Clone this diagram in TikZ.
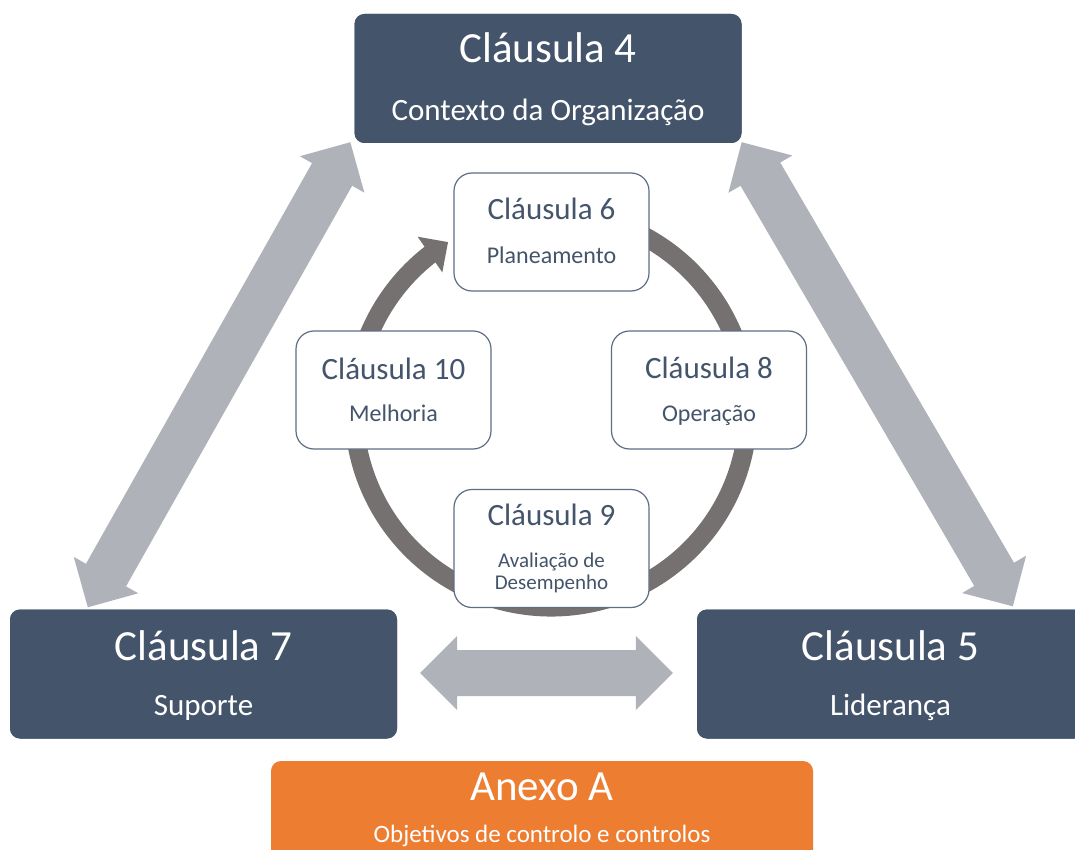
\documentclass[tikz,border=0pt]{standalone}
\usepackage{fontspec}
\setmainfont{Carlito}
\usetikzlibrary{calc,arrows.meta,bending}

\definecolor{slate}{HTML}{44546A}
\definecolor{fatgrey}{HTML}{AFB2B9}
\definecolor{ringgrey}{HTML}{767171}
\definecolor{annexorange}{HTML}{ED7D31}
\definecolor{innerline}{HTML}{5E6E84}

\tikzset{
  darkbox/.style={fill=slate, rounded corners=10pt, inner sep=0pt,
    minimum width=387pt, minimum height=129pt},
  annexbox/.style={fill=annexorange, rounded corners=10pt, inner sep=0pt,
    minimum width=542pt, minimum height=130pt},
  innerbox/.style={fill=white, draw=innerline, line width=1.2pt,
    rounded corners=18pt, inner sep=0pt,
    minimum width=195pt, minimum height=118pt},
  bigtitle/.style={anchor=base, text=white, inner sep=0pt,
    font=\fontsize{43}{50}\selectfont},
  bigsub/.style={anchor=base, text=white, inner sep=0pt,
    font=\fontsize{31}{37}\selectfont},
  annexsub/.style={anchor=base, text=white, inner sep=0pt,
    font=\fontsize{25}{30}\selectfont},
  smalltitle/.style={anchor=base, text=slate, inner sep=0pt,
    font=\fontsize{31}{37}\selectfont},
  smallsub/.style={anchor=base, text=slate, inner sep=0pt,
    font=\fontsize{24}{29}\selectfont},
  tinysub/.style={anchor=base, text=slate, inner sep=0pt,
    font=\fontsize{21}{25}\selectfont},
  ring/.style={draw=ringgrey, line width=19pt,
    -{Triangle[width=42pt,length=22pt]}},
}

% Broad two-headed arrow between two points
% (head length 37pt, head half-width 37pt, shaft half-width 23pt)
\newcommand\fatarrow[2]{%
  \fill[fatgrey] (#1)
    -- ($(#1)!37pt!(#2)!37pt!90:(#2)$)
    -- ($(#1)!37pt!(#2)!23pt!90:(#2)$)
    -- ($(#2)!37pt!(#1)!23pt!-90:(#1)$)
    -- ($(#2)!37pt!(#1)!37pt!-90:(#1)$)
    -- (#2)
    -- ($(#2)!37pt!(#1)!37pt!90:(#1)$)
    -- ($(#2)!37pt!(#1)!23pt!90:(#1)$)
    -- ($(#1)!37pt!(#2)!23pt!-90:(#2)$)
    -- ($(#1)!37pt!(#2)!37pt!-90:(#2)$)
    -- cycle;}

\begin{document}
\begin{tikzpicture}[x=1pt,y=1pt]
  \fill[white] (0,0) rectangle (1075,-850);
  \useasboundingbox (0,0) rectangle (1075,-850);

  % outer clauses
  \node[darkbox] (c4) at (548,-78.5) {};
  \node[darkbox] (c7) at (203.5,-674) {};
  \node[darkbox] (c5) at (890.5,-674) {};

  % end points of the broad arrows
  \coordinate (l1) at ($(c4.south west)+(-4,1)$);
  \coordinate (l2) at ($(c7.north west)+(78,2)$);
  \coordinate (r1) at ($(c4.south east)+(0,1)$);
  \coordinate (r2) at ($(c5.north west)+(316,3)$);
  \coordinate (b1) at ($(c7.east)+(23,1)$);
  \coordinate (b2) at ($(c5.west)+(-24,1)$);

  \fatarrow{l1}{l2}
  \fatarrow{r1}{r2}
  \fatarrow{b1}{b2}

  % redraw the outer boxes above the arrow tips
  \node[darkbox] at (c4) {};
  \node[darkbox] at (c7) {};
  \node[darkbox] at (c5) {};

  % improvement cycle
  \coordinate (ringc) at (551,-410);
  \draw[ring] ($(ringc)+(75:197)$) arc[start angle=75, end angle=-238.5, radius=197];

  % inner clauses
  \node[innerbox] (c6) at (551.5,-232) {};
  \node[innerbox] (c10) at (393.5,-390) {};
  \node[innerbox] (c8) at (709,-390) {};
  \node[innerbox] (c9) at (551.5,-548.5) {};

  % annex
  \node[annexbox] (ax) at (542,-826) {};

  % texts
  \node[bigtitle] (c4t) at (548,-63) {Cláusula 4};
  \node[bigsub] (c4s) at (548,-121) {Contexto da Organização};
  \node[bigtitle] (c7t) at (203.5,-660) {Cláusula 7};
  \node[bigsub] (c7s) at (203.5,-715) {Suporte};
  \node[bigtitle] (c5t) at (890.5,-660) {Cláusula 5};
  \node[bigsub] (c5s) at (890.5,-715) {Liderança};

  \node[smalltitle] (c6t) at (551.5,-220) {Cláusula 6};
  \node[smallsub] (c6s) at (551.5,-263) {Planeamento};
  \node[smalltitle] (c10t) at (393.5,-379) {Cláusula 10};
  \node[smallsub] (c10s) at (393.5,-421) {Melhoria};
  \node[smalltitle] (c8t) at (709,-378) {Cláusula 8};
  \node[smallsub] (c8s) at (709,-421) {Operação};
  \node[smalltitle] (c9t) at (551.5,-525) {Cláusula 9};
  \node[tinysub] (c9s) at (551.5,-567) {Avaliação de};
  \node[tinysub] (c9u) at (551.5,-589) {Desempenho};

  \node[bigtitle] (axt) at (542,-800) {Anexo A};
  \node[annexsub] (axs) at (542,-842) {Objetivos de controlo e controlos};
\end{tikzpicture}
\end{document}
